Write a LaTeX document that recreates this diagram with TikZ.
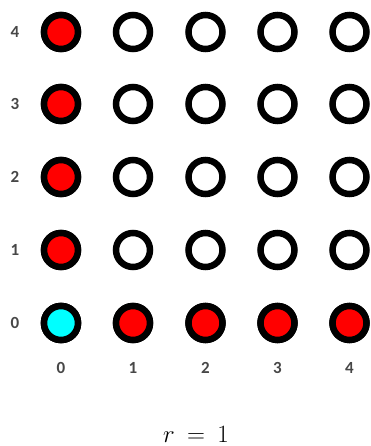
\documentclass[tikz,border=0pt]{standalone}
\usepackage{fontspec}
\newfontfamily\lblfont{Carlito}
\definecolor{dotred}{RGB}{255,0,0}
\definecolor{dotcyan}{RGB}{0,255,255}
\begin{document}
\begin{tikzpicture}[x=1pt,y=-1pt,
  dot/.style={circle,draw=black,line width=6.5pt,minimum size=34pt,inner sep=0pt,fill=white},
  reddot/.style={dot,fill=dotred},
  cyandot/.style={dot,fill=dotcyan},
  lbl/.style={font=\lblfont\fontsize{17}{20}\selectfont\bfseries,text=black!72,inner sep=0pt}]
\useasboundingbox (0,0) rectangle (371,446);
\foreach \i/\x in {0/61,1/133,2/205.5,3/277.5,4/349.5}{
  \foreach \j/\y in {0/323,1/250,2/177,3/104,4/32}{
    \node[dot] (c\i\j) at (\x,\y) {};
  }
  \node[lbl] (col\i) at (\x,368) {\i};
}
\foreach \j/\y in {0/323,1/250,2/177,3/104,4/32}{
  \node[lbl] (row\j) at (15,\y) {\j};
}
\foreach \j in {0,1,2,3,4}{\node[reddot] at (c0\j) {};}
\foreach \i in {1,2,3,4}{\node[reddot] at (c\i0) {};}
\node[cyandot] at (c00) {};
\node[inner sep=0pt,anchor=base,font=\fontsize{24}{28}\selectfont] (rlab) at (196,442) {$r\:=\:1$};
\end{tikzpicture}
\end{document}
